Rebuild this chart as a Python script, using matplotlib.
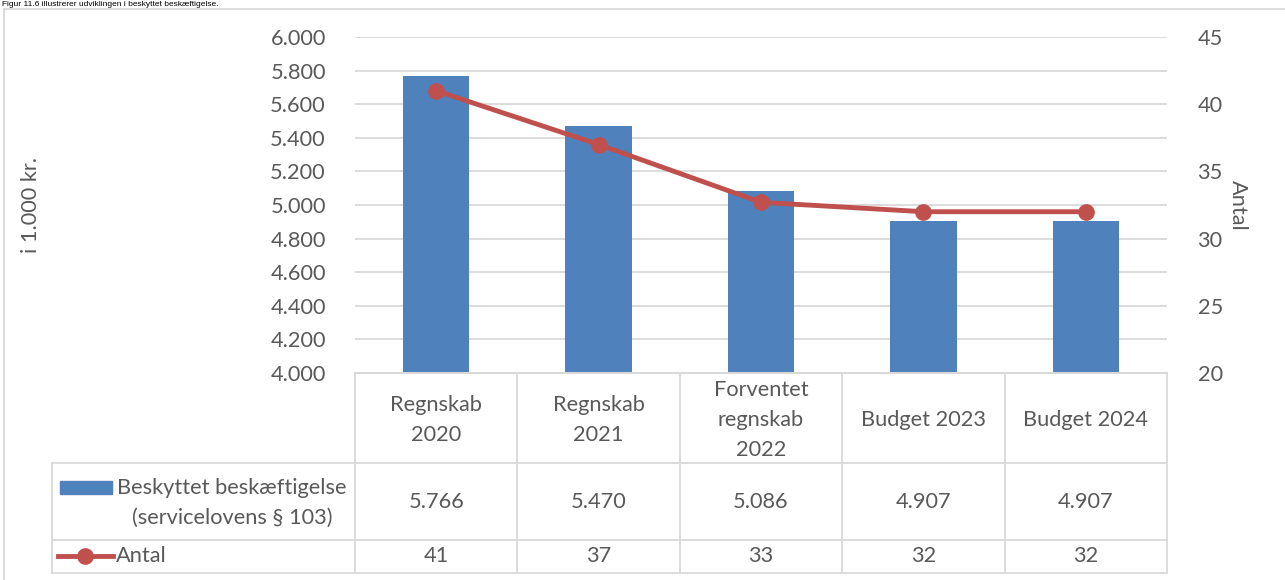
import matplotlib
matplotlib.use("Agg")
import matplotlib.pyplot as plt
from matplotlib.lines import Line2D
from matplotlib.patches import Rectangle

# data
categories = ["Regnskab\n2020", "Regnskab\n2021", "Forventet\nregnskab\n2022",
              "Budget 2023", "Budget 2024"]
belob = [5766, 5470, 5086, 4907, 4907]
antal = [41, 37, 32.7, 32, 32]
antal_labels = ["41", "37", "33", "32", "32"]
bar_name = "Beskyttet beskæftigelse\n(servicelovens § 103)"
line_name = "Antal"

W, H = 1285, 580
BLUE = "#4F81BD"
RED = "#C0504D"
TXT = "#595959"
GRID = "#D9D9D9"
FONT = "Lato"
FS = 15.7

plt.rcParams["font.family"] = [FONT, "DejaVu Sans"]

fig = plt.figure(figsize=(W / 100, H / 100), dpi=100)

def fx(px):
    return px / W

def fy(py):
    return 1 - py / H

# plot area in pixels
L, R, T, B = 355, 1167, 37, 373
ax = fig.add_axes([fx(L), fy(B), fx(R) - fx(L), fy(T) - fy(B)])
ax2 = ax.twinx()

x = list(range(len(categories)))
ax.bar(x, belob, width=0.41, color=BLUE, zorder=2)
ax.set_xlim(-0.5, len(categories) - 0.5)
ax.set_ylim(4000, 6000)
ax.set_yticks(range(4000, 6001, 200))
ax.set_yticklabels([f"{v:,}".replace(",", ".") for v in range(4000, 6001, 200)])
ax.grid(axis="y", color=GRID, linewidth=1.3, zorder=0)
ax.set_axisbelow(True)
ax.set_xticks([])

ax2.plot(x, antal, color=RED, linewidth=3.5, marker="o", markersize=11, zorder=3)
ax2.set_ylim(20, 45)
ax2.set_yticks(range(20, 46, 5))

for a in (ax, ax2):
    for s in ("top", "left", "right"):
        a.spines[s].set_visible(False)
    a.spines["bottom"].set_color(GRID)
    a.spines["bottom"].set_linewidth(1.3)
    a.tick_params(axis="y", length=0, labelsize=FS, labelcolor=TXT)
ax.tick_params(axis="y", pad=21)
ax2.tick_params(axis="y", pad=22)

fig.text(fx(31), fy(205), "i 1.000 kr.", rotation=90, ha="center", va="center",
         fontsize=FS, color=TXT)
fig.text(fx(1238), fy(205), "Antal", rotation=270, ha="center", va="center",
         fontsize=FS, color=TXT)

# data table below plot
row1, row2, row3 = 463, 540, 573
TL = 52
col_w = (R - L) / len(categories)

def hline(x0, x1, y):
    fig.add_artist(Line2D([fx(x0), fx(x1)], [fy(y), fy(y)], color=GRID, lw=1.3))

def vline(xp, y0, y1):
    fig.add_artist(Line2D([fx(xp), fx(xp)], [fy(y0), fy(y1)], color=GRID, lw=1.3))

hline(TL, R, row1)
hline(TL, R, row2)
hline(TL, R, row3)
vline(TL, row1, row3)
for i in range(len(categories) + 1):
    vline(L + i * col_w, B, row3)

for i, c in enumerate(categories):
    cx = L + (i + 0.5) * col_w
    fig.text(fx(cx), fy((B + row1) / 2 + 2), c, ha="center", va="center",
             fontsize=FS, color=TXT, linespacing=1.6)
    fig.text(fx(cx), fy((row1 + row2) / 2), f"{belob[i]:,}".replace(",", "."),
             ha="center", va="center", fontsize=FS, color=TXT)
    fig.text(fx(cx), fy((row2 + row3) / 2), antal_labels[i],
             ha="center", va="center", fontsize=FS, color=TXT)

# legend keys in table
fig.add_artist(Rectangle((fx(60), fy(494)), fx(112) - fx(60), fy(481) - fy(494),
                         color=BLUE, transform=fig.transFigure))
fig.text(fx(232), fy(503), bar_name, ha="center", va="center", fontsize=FS,
         color=TXT, linespacing=1.6, multialignment="center")
fig.add_artist(Line2D([fx(58), fx(113)], [fy(556), fy(556)], color=RED, lw=3.5))
fig.add_artist(Line2D([fx(85)], [fy(556)], color=RED, marker="o", markersize=11,
                      linestyle="none"))
fig.text(fx(116), fy(556), line_name, ha="left", va="center", fontsize=FS, color=TXT)

# chart border (left and top) and caption above
vline(4, 9, 580)
hline(4, W, 9)
fig.text(fx(2), fy(0.5), "Figur 11.6 illustrerer udviklingen i beskyttet beskæftigelse.",
         ha="left", va="top", fontsize=6, color="black",
         family=["Liberation Sans", "DejaVu Sans"])

fig.savefig("out.png", dpi=100)
